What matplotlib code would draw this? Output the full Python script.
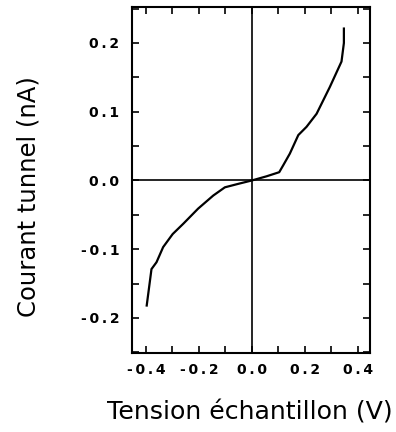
import matplotlib
matplotlib.use("Agg")
import matplotlib.pyplot as plt
from matplotlib.ticker import MultipleLocator, FuncFormatter

# I(V) tunnelling curve
voltage = [-0.397, -0.379, -0.360, -0.335, -0.299, -0.259, -0.203, -0.146,
           -0.102, -0.052, 0.000, 0.055, 0.103, 0.118, 0.143, 0.175, 0.206,
           0.244, 0.294, 0.338, 0.347, 0.347]
current = [-0.182, -0.129, -0.119, -0.097, -0.078, -0.063, -0.041, -0.022,
           -0.010, -0.005, 0.000, 0.006, 0.012, 0.022, 0.039, 0.066, 0.078,
           0.097, 0.136, 0.173, 0.200, 0.221]

x_label = "Tension échantillon (V)"
y_label = "Courant tunnel (nA)"

plt.rcParams["font.family"] = ["DejaVu Sans"]
plt.rcParams["font.weight"] = "bold"

fig = plt.figure(figsize=(3.96, 4.32), dpi=100)
ax = fig.add_axes([0.333, 0.183, 0.601, 0.801])

ax.plot(voltage, current, color="black", lw=1.6)
ax.axhline(0, color="black", lw=1.2)
ax.axvline(0, color="black", lw=1.2)

ax.set_xlim(-0.453, 0.445)
ax.set_ylim(-0.251, 0.2525)

ax.xaxis.set_major_locator(MultipleLocator(0.2))
ax.xaxis.set_minor_locator(MultipleLocator(0.1))
ax.yaxis.set_major_locator(MultipleLocator(0.1))
ax.yaxis.set_minor_locator(MultipleLocator(0.05))


def spaced(v, pos):
    # letter-spaced tick labels, e.g. "-0.4" with thin gaps
    s = f"{v:.1f}"
    if s == "-0.0":
        s = "0.0"
    return "\u2009".join(s)


ax.xaxis.set_major_formatter(FuncFormatter(spaced))
ax.yaxis.set_major_formatter(FuncFormatter(spaced))

ax.tick_params(which="both", direction="in", top=True, right=True,
               length=5, width=1.2, color="black", labelsize=10)
ax.tick_params(axis="x", which="major", pad=7)
ax.tick_params(axis="y", which="major", pad=9)

for sp in ax.spines.values():
    sp.set_linewidth(1.5)

fig.text(0.631, 0.044, x_label, ha="center", va="center",
         fontsize=18.2, family="DejaVu Sans", weight="normal")
fig.text(0.071, 0.544, y_label, ha="center", va="center", rotation=90,
         fontsize=17.5, family="DejaVu Sans", weight="normal")

fig.savefig("out.png", dpi=100)
